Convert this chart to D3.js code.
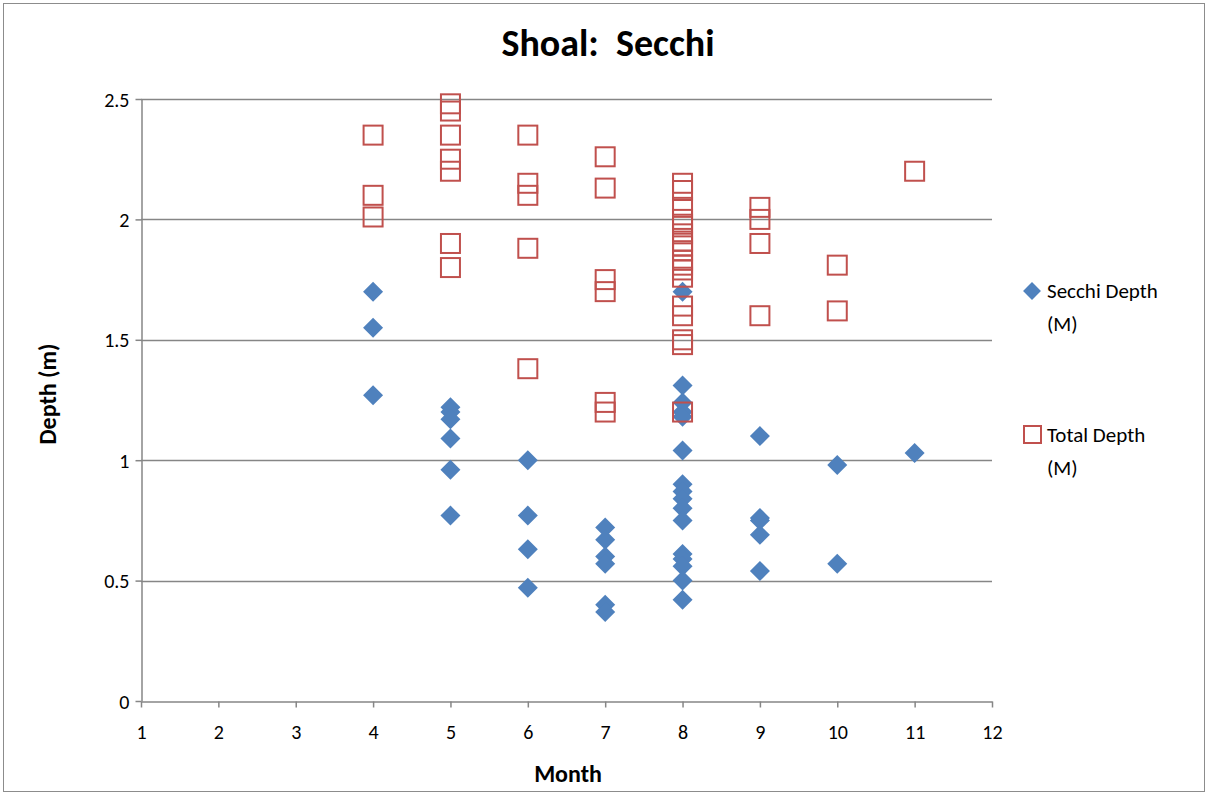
<!DOCTYPE html>
<html><head><meta charset="utf-8">
<script src="https://cdn.jsdelivr.net/npm/d3@7"></script>
<style>body{margin:0;background:#fff}svg{display:block}text{font-family:Carlito,"Liberation Sans Narrow","Liberation Sans",sans-serif;white-space:pre}</style>
</head><body><svg id="c" width="1208" height="795"></svg>
<script>
const title = "Shoal:  Secchi";
const xTicks = [1,2,3,4,5,6,7,8,9,10,11,12];
const yTicks = [0,0.5,1,1.5,2,2.5];
const seriesNames = ["Secchi Depth (M)", "Total Depth (M)"];
const secchiMonth = [4,4,4, 5,5,5,5,5,5, 6,6,6,6, 7,7,7,7,7,7, 8,8,8,8,8,8,8,8,8,8,8,8,8,8,8,8, 9,9,9,9,9, 10,10, 11];
const secchiDepth = [1.70,1.55,1.27, 1.22,1.20,1.17,1.09,0.96,0.77, 1.00,0.77,0.63,0.47, 0.72,0.67,0.60,0.57,0.40,0.37,
  1.70,1.31,1.24,1.20,1.18,1.04,0.90,0.87,0.84,0.80,0.75,0.61,0.59,0.56,0.50,0.42,
  1.10,0.76,0.75,0.69,0.54, 0.98,0.57, 1.03];
const totalMonth = [4,4,4, 5,5,5,5,5,5,5, 6,6,6,6,6, 7,7,7,7,7,7,
  8,8,8,8,8,8,8,8,8,8,8,8,8,8,8,8,8,8, 9,9,9,9, 10,10, 11];
const totalDepth = [2.35,2.10,2.01, 2.48,2.45,2.35,2.25,2.20,1.90,1.80, 2.35,2.15,2.10,1.88,1.38, 2.26,2.13,1.75,1.70,1.24,1.20,
  2.15,2.12,2.05,2.00,1.98,1.94,1.91,1.89,1.87,1.83,1.81,1.79,1.76,1.64,1.60,1.50,1.48,1.20,
  2.05,2.00,1.90,1.60, 1.81,1.62, 2.20];

const svg = d3.select("#c");
svg.append("rect").attr("x",3.5).attr("y",3.5).attr("width",1201).attr("height",788)
  .attr("fill","#fff").attr("stroke","#8c8c8c").attr("stroke-width",1);

const x = d3.scaleLinear().domain([1,12]).range([141,992]);
const y = d3.scaleLinear().domain([0,2.5]).range([701,99]);

svg.append("g").selectAll("line").data(yTicks.filter(d=>d>0)).join("line")
  .attr("x1",x(1)).attr("x2",x(12)).attr("y1",d=>Math.round(y(d))+0.5).attr("y2",d=>Math.round(y(d))+0.5)
  .attr("stroke","#868686").attr("stroke-width",1.5);

const xAxis = svg.append("g").attr("transform",`translate(0,${Math.round(y(0))+0.5})`)
  .call(d3.axisBottom(x).tickValues(xTicks).tickFormat(d3.format("d")).tickSize(6).tickSizeOuter(0));
const yAxis = svg.append("g").attr("transform",`translate(${Math.round(x(1))+0.5},0)`)
  .call(d3.axisLeft(y).tickValues(yTicks).tickFormat(d=>String(d)).tickSize(6).tickSizeOuter(0));
[xAxis,yAxis].forEach(g=>{
  g.selectAll("path,line").attr("stroke","#868686").attr("stroke-width",1.5);
  g.selectAll("text").attr("fill","#000").style("font-size","20px");
});
xAxis.selectAll("text").attr("y",23).attr("dy","0.71em");
yAxis.selectAll("text").attr("x",-12).attr("dy","0.35em");

const diamond = d3.symbol().type(d3.symbolSquare).size(200);
const secchi = secchiMonth.map((m,i)=>({m, v:secchiDepth[i]}));
const total = totalMonth.map((m,i)=>({m, v:totalDepth[i]}));

svg.append("g").selectAll("path").data(secchi).join("path")
  .attr("d",diamond).attr("transform",d=>`translate(${x(d.m)},${y(d.v)}) rotate(45)`)
  .attr("fill","#4F81BD");

svg.append("g").selectAll("rect").data(total).join("rect")
  .attr("x",d=>x(d.m)-9.5).attr("y",d=>y(d.v)-9.5).attr("width",19).attr("height",19)
  .attr("fill","none").attr("stroke","#C0504D").attr("stroke-width",2);

svg.append("text").attr("x",608).attr("y",56).attr("text-anchor","middle")
  .style("font-size","38px").style("font-weight","bold").text(title);
svg.append("text").attr("x",568).attr("y",782).attr("text-anchor","middle")
  .style("font-size","24px").style("font-weight","bold").text("Month");
svg.append("text").attr("transform","translate(56,394) rotate(-90)").attr("text-anchor","middle")
  .style("font-size","24px").style("font-weight","bold").text("Depth (m)");

const lg = svg.append("g");
lg.append("path").attr("d",d3.symbol().type(d3.symbolSquare).size(160))
  .attr("transform","translate(1032,291) rotate(45)").attr("fill","#4F81BD");
lg.append("rect").attr("x",1024).attr("y",426).attr("width",17).attr("height",17)
  .attr("fill","none").attr("stroke","#C0504D").attr("stroke-width",2);
const lines = [["Secchi Depth","(M)"],["Total Depth","(M)"]];
[[1047,298],[1047,442]].forEach(([lx,ly],i)=>{
  lg.append("text").attr("x",lx).attr("y",ly).style("font-size","21px").text(lines[i][0]);
  lg.append("text").attr("x",lx).attr("y",ly+33).style("font-size","21px").text(lines[i][1]);
});
</script></body></html>
